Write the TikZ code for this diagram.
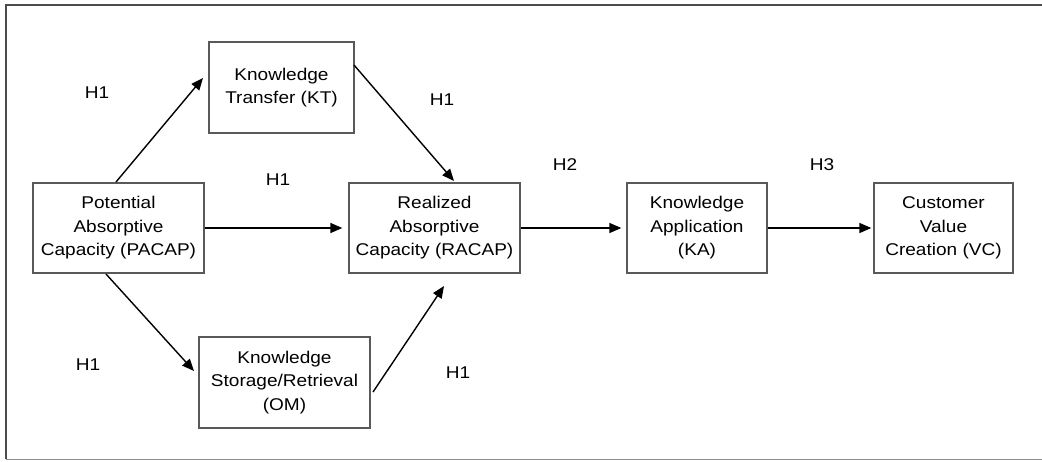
\documentclass[tikz,border=0pt]{standalone}
\usepackage{fontspec}
\setmainfont{Liberation Sans}[FakeStretch=1.12]
\usetikzlibrary{arrows.meta}
\begin{document}
\begin{tikzpicture}[x=1pt,y=-1pt,
  box/.style={draw=black!65,line width=1.3pt,align=center,font=\fontsize{17}{23.5}\selectfont,inner sep=0pt},
  lbl/.style={font=\fontsize{17}{20}\selectfont,inner sep=0pt},
  arr/.style={draw=black,line width=1.4pt,-{Triangle[length=12pt,width=10pt]}}]
\useasboundingbox (0,0) rectangle (1042,461);
\draw[black!70,line width=2pt] (1042,5) -- (6,5) -- (6,459);
\draw[black!45,line width=1pt] (6,459.5) -- (1042,459.5);
% boxes
\node[box,minimum width=171pt,minimum height=90pt] (pacap) at (118.5,228) {Potential\\Absorptive\\Capacity (PACAP)};
\node[box,minimum width=145pt,minimum height=91pt] (kt) at (281.5,87.5) {Knowledge\\Transfer (KT)};
\node[box,minimum width=171pt,minimum height=90pt] (racap) at (434.5,228) {Realized\\Absorptive\\Capacity (RACAP)};
\node[box,minimum width=171pt,minimum height=91pt] (om) at (284.5,382.5) {Knowledge\\Storage/Retrieval\\(OM)};
\node[box,minimum width=140pt,minimum height=90pt] (ka) at (697,228) {Knowledge\\Application\\(KA)};
\node[box,minimum width=139pt,minimum height=90pt] (vc) at (943.5,228) {Customer\\Value\\Creation (VC)};
% coordinates for arrow ends
\coordinate (a1s) at (116,182); \coordinate (a1e) at (203,78);
\coordinate (a2s) at (354,65);  \coordinate (a2e) at (454,181);
\coordinate (a4s) at (106,274); \coordinate (a4e) at (194,371);
\coordinate (a5s) at (373,392); \coordinate (a5e) at (444,286);
\draw[arr] (a1s) -- (a1e);
\draw[arr] (a2s) -- (a2e);
\draw[arr] (pacap.east) -- ([xshift=-6pt]racap.west);
\draw[arr] (a4s) -- (a4e);
\draw[arr] (a5s) -- (a5e);
\draw[arr] (racap.east) -- ([xshift=-5pt]ka.west);
\draw[arr] (ka.east) -- ([xshift=-2pt]vc.west);
% labels
\node[lbl] (h1a) at (97,93) {H1};
\node[lbl] (h1b) at (442,100) {H1};
\node[lbl] (h1c) at (278,180) {H1};
\node[lbl] (h1d) at (88,365) {H1};
\node[lbl] (h1e) at (458,373) {H1};
\node[lbl] (h2) at (565,165) {H2};
\node[lbl] (h3) at (822,165) {H3};
\end{tikzpicture}
\end{document}
